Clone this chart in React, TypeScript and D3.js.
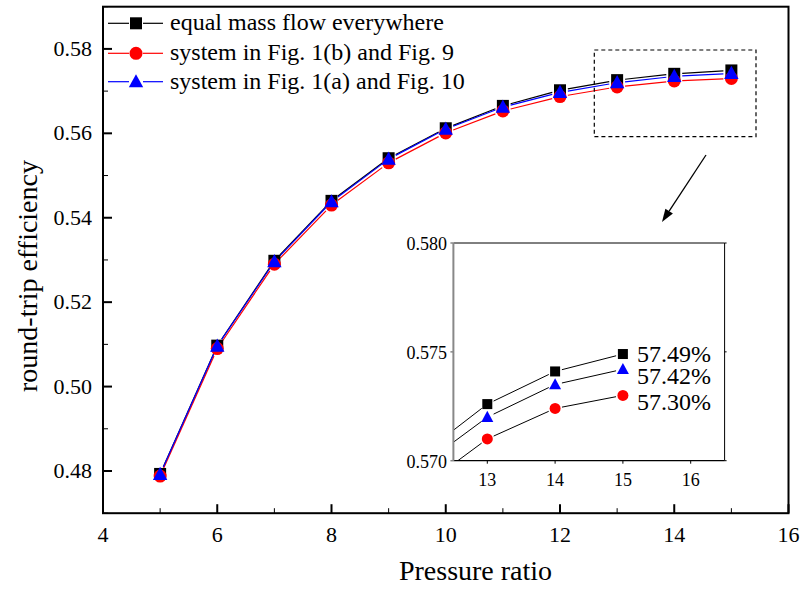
import React from "react";
import * as d3 from "d3";

const X = [5, 6, 7, 8, 9, 10, 11, 12, 13, 14, 15];
const BLACK = [0.4793, 0.5097, 0.5298, 0.544, 0.5541, 0.5612, 0.5665, 0.5702, 0.5726, 0.5741, 0.5749];
const BLUE = [0.4792, 0.5096, 0.5296, 0.5438, 0.5539, 0.561, 0.5662, 0.5697, 0.572, 0.5735, 0.5742];
const RED = [0.4788, 0.509, 0.529, 0.543, 0.553, 0.5601, 0.5653, 0.5687, 0.571, 0.5724, 0.573];
const X_TICKS = [4, 6, 8, 10, 12, 14, 16];
const X_MINOR = [5, 7, 9, 11, 13, 15];
const Y_TICKS = [0.48, 0.5, 0.52, 0.54, 0.56, 0.58];
const Y_MINOR = [0.47, 0.49, 0.51, 0.53, 0.55, 0.57, 0.59];
const INSET_X_TICKS = [13, 14, 15, 16];
const INSET_Y_TICKS = [0.57, 0.575, 0.58];
const LEGEND = ["equal mass flow everywhere", "system in Fig. 1(b) and Fig. 9", "system in Fig. 1(a) and Fig. 10"];
const INSET_LABELS = ["57.49%", "57.42%", "57.30%"];

const FONT = "'Liberation Serif', 'Times New Roman', serif";

type Series = { name: string; values: number[]; color: string; lineColor: string; shape: string };
const SERIES: Series[] = [
  { name: LEGEND[0], values: BLACK, color: "#000", lineColor: "#000", shape: "square" },
  { name: LEGEND[1], values: RED, color: "#ff0000", lineColor: "#ff0000", shape: "circle" },
  { name: LEGEND[2], values: BLUE, color: "#0000ff", lineColor: "#0000ff", shape: "triangle" },
];

function Marker({ shape, x, y, size, color }: { shape: string; x: number; y: number; size: number; color: string }) {
  if (shape === "square") {
    return <rect x={x - size / 2} y={y - size / 2} width={size} height={size} fill={color} />;
  }
  if (shape === "circle") {
    return <circle cx={x} cy={y} r={size / 2 + 0.5} fill={color} />;
  }
  const h = size * 1.05;
  const w = size * 1.2;
  return (
    <path
      d={`M${x},${y - h * 0.6} L${x + w / 2},${y + h * 0.45} L${x - w / 2},${y + h * 0.45} Z`}
      fill={color}
    />
  );
}

function segs(pts: [number, number][], gap: number) {
  const out: [number, number, number, number][] = [];
  for (let i = 0; i < pts.length - 1; i++) {
    const [x1, y1] = pts[i];
    const [x2, y2] = pts[i + 1];
    const dx = x2 - x1;
    const dy = y2 - y1;
    const len = Math.hypot(dx, dy);
    if (len <= 2 * gap) continue;
    const ux = dx / len;
    const uy = dy / len;
    out.push([x1 + ux * gap, y1 + uy * gap, x2 - ux * gap, y2 - uy * gap]);
  }
  return out;
}

export default function App() {
  const W = 803;
  const H = 592;
  const left = 103;
  const right = 788.5;
  const top = 6.7;
  const bottom = 513.2;

  const x = d3.scaleLinear().domain([4, 16]).range([left, right]);
  const y = d3.scaleLinear().domain([0.47, 0.59]).range([bottom, top]);

  // inset
  const iL = 453.4;
  const iR = 724.6;
  const iT = 243;
  const iB = 460.7;
  const ix = d3.scaleLinear().domain([12.5, 16.5]).range([iL, iR]);
  const iy = d3.scaleLinear().domain([0.57, 0.58]).range([iB, iT]);

  // zoom box region
  const zx0 = 594.3, zx1 = 756, zy0 = 50, zy1 = 136.7;

  // arrow
  const a0 = [706, 155];
  const a1 = [662, 222];
  const adx = a1[0] - a0[0];
  const ady = a1[1] - a0[1];
  const alen = Math.hypot(adx, ady);
  const ux = adx / alen, uy = ady / alen;
  const hl = 13, hw = 4.5;
  const bx = a1[0] - ux * hl, by = a1[1] - uy * hl;
  const px = -uy * hw, py = ux * hw;

  const insetIdx = X.map((v, i) => i).filter((i) => X[i] >= 12);

  return (
    <svg
      width={W}
      height={H}
      style={{ position: "absolute", left: 0, top: 0, background: "#fff" }}
      fontFamily={FONT}
    >
      <defs>
        <clipPath id="insetClip">
          <rect x={iL} y={iT} width={iR - iL} height={iB - iT} />
        </clipPath>
      </defs>
      <rect x={0} y={0} width={W} height={H} fill="#fff" />

      {/* Main series lines */}
      {SERIES.map((s) => {
        const pts = X.map((xv, i) => [x(xv), y(s.values[i])] as [number, number]);
        return (
          <g key={s.name + "l"}>
            {segs(pts, 8).map((sg, i) => (
              <line key={i} x1={sg[0]} y1={sg[1]} x2={sg[2]} y2={sg[3]} stroke={s.lineColor} strokeWidth={1.2} />
            ))}
          </g>
        );
      })}
      {/* Main markers */}
      {SERIES.map((s) => (
        <g key={s.name + "m"}>
          {X.map((xv, i) => (
            <Marker key={i} shape={s.shape} x={x(xv)} y={y(s.values[i])} size={12} color={s.color} />
          ))}
        </g>
      ))}

      {/* Frame */}
      <rect x={left} y={top} width={right - left} height={bottom - top} fill="none" stroke="#000" strokeWidth={2} />

      {/* X ticks */}
      {X_TICKS.map((t) => (
        <g key={"xt" + t}>
          <line x1={x(t)} x2={x(t)} y1={bottom} y2={bottom - 9} stroke="#000" strokeWidth={2} />
          <text x={x(t)} y={541.5} textAnchor="middle" fontSize={22} fill="#000">
            {t}
          </text>
        </g>
      ))}
      {X_MINOR.map((t) => (
        <line key={"xm" + t} x1={x(t)} x2={x(t)} y1={bottom} y2={bottom - 5} stroke="#000" strokeWidth={1} />
      ))}
      {/* Y ticks */}
      {Y_TICKS.map((t) => (
        <g key={"yt" + t}>
          <line x1={left} x2={left + 9} y1={y(t)} y2={y(t)} stroke="#000" strokeWidth={2} />
          <text x={92} y={y(t) + 7} textAnchor="end" fontSize={22} fill="#000">
            {d3.format(".2f")(t)}
          </text>
        </g>
      ))}
      {Y_MINOR.map((t) => (
        <line key={"ym" + t} x1={left} x2={left + 5} y1={y(t)} y2={y(t)} stroke="#000" strokeWidth={1} />
      ))}

      {/* Axis titles */}
      <text x={475.5} y={580} textAnchor="middle" fontSize={28} fill="#000">
        Pressure ratio
      </text>
      <text transform="translate(37,276) rotate(-90)" textAnchor="middle" fontSize={28} fill="#000">
        round-trip efficiency
      </text>

      {/* Legend */}
      {SERIES.map((s, i) => {
        const ly = [23.3, 53.3, 81.7][i];
        return (
          <g key={"lg" + i}>
            <line x1={108} x2={129} y1={ly} y2={ly} stroke={s.lineColor} strokeWidth={1.2} />
            <line x1={143} x2={163} y1={ly} y2={ly} stroke={s.lineColor} strokeWidth={1.2} />
            <Marker shape={s.shape} x={136} y={ly} size={12} color={s.color} />
            <text x={170} y={ly + 7} fontSize={24} fill="#000">
              {s.name}
            </text>
          </g>
        );
      })}

      {/* Zoom box */}
      <rect x={zx0} y={zy0} width={zx1 - zx0} height={zy1 - zy0} fill="none" stroke="#000" strokeWidth={1.2} strokeDasharray="4,3" />

      {/* Arrow */}
      <line x1={a0[0]} y1={a0[1]} x2={bx} y2={by} stroke="#000" strokeWidth={1.3} />
      <path d={`M${a1[0]},${a1[1]} L${bx + px},${by + py} L${bx - px},${by - py} Z`} fill="#000" />

      {/* Inset */}
      <rect x={iL} y={iT} width={iR - iL} height={iB - iT} fill="#fff" stroke="none" />
      <g clipPath="url(#insetClip)">
        {SERIES.map((s) => {
          const pts = insetIdx.map((i) => [ix(X[i]), iy(s.values[i])] as [number, number]);
          return (
            <g key={s.name + "il"}>
              {segs(pts, 7).map((sg, k) => (
                <line key={k} x1={sg[0]} y1={sg[1]} x2={sg[2]} y2={sg[3]} stroke="#000" strokeWidth={1} />
              ))}
            </g>
          );
        })}
        {SERIES.map((s) => (
          <g key={s.name + "im"}>
            {insetIdx.map((i) => (
              <Marker key={i} shape={s.shape} x={ix(X[i])} y={iy(s.values[i])} size={10} color={s.color} />
            ))}
          </g>
        ))}
      </g>
      <line x1={iL} x2={iR} y1={iT} y2={iT} stroke="#000" strokeWidth={1} />
      <line x1={iR} x2={iR} y1={iT} y2={iB} stroke="#000" strokeWidth={1} />
      <line x1={iL} x2={iR} y1={iB} y2={iB} stroke="#000" strokeWidth={1.2} />
      <line x1={iL} x2={iL} y1={iT} y2={iB} stroke="#888" strokeWidth={2} />
      {INSET_Y_TICKS.map((t) => (
        <g key={"iyt" + t}>
          <line x1={iL - 3} x2={iL} y1={iy(t)} y2={iy(t)} stroke="#888" strokeWidth={1.5} />
          <line x1={iR} x2={iR + 2} y1={iy(t)} y2={iy(t)} stroke="#000" strokeWidth={1} />
          <text x={447} y={iy(t) + 7} textAnchor="end" fontSize={18} fill="#000">
            {d3.format(".3f")(t)}
          </text>
        </g>
      ))}
      {INSET_X_TICKS.map((t) => (
        <g key={"ixt" + t}>
          <line x1={ix(t)} x2={ix(t)} y1={iB} y2={iB + 3} stroke="#000" strokeWidth={1} />
          <text x={ix(t)} y={486} textAnchor="middle" fontSize={18} fill="#000">
            {t}
          </text>
        </g>
      ))}
      {INSET_LABELS.map((l, i) => (
        <text key={l} x={637} y={[361.7, 383.5, 410][i]} fontSize={24} fill="#000">
          {l}
        </text>
      ))}
    </svg>
  );
}
